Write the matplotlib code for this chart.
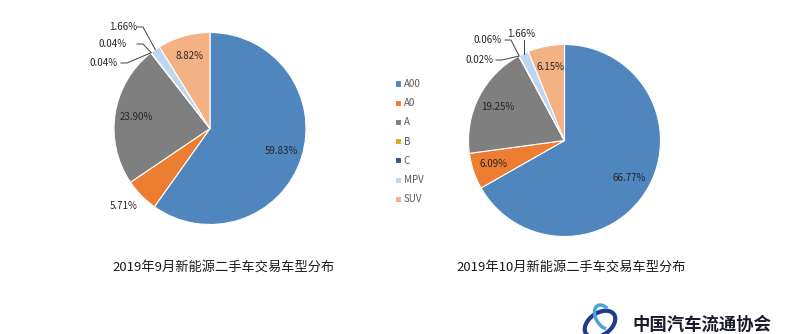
import matplotlib.pyplot as plt
from matplotlib.patches import Ellipse, Arc
import numpy as np

plt.rcParams['font.family'] = ['Noto Sans CJK SC', 'DejaVu Sans']

# datos
categorias = ["A00", "A0", "A", "B", "C", "MPV", "SUV"]
sep_valores = [59.83, 5.71, 23.90, 0.04, 0.04, 1.66, 8.82]
oct_valores = [66.77, 6.09, 19.25, 0.02, 0.06, 1.66, 6.15]
titulos = ["2019年9月新能源二手车交易车型分布", "2019年10月新能源二手车交易车型分布"]
colores = ["#4F86BE", "#ED7D31", "#7F7F7F", "#D4AE1A", "#2F5597", "#BDD7EE", "#F4B183"]

W, H = 800, 334
fig = plt.figure(figsize=(8, 3.34), dpi=100)
ax = fig.add_axes([0, 0, 1, 1])
ax.set_xlim(0, W)
ax.set_ylim(0, H)
ax.axis('off')

R = 96
centros = [(210, H - 128.5), (564.5, H - 140.5)]
col_txt = "#262626"

# etiquetas fuera (posición del texto, codo de la linea)
fuera = [
    {1: ((124, H - 206), None),
     3: ((104, H - 63), (124, H - 63)),
     4: ((113, H - 44), (140, H - 44)),
     5: ((123, H - 27), (140, H - 27))},
    {3: ((479, H - 60), (499, H - 60)),
     4: ((488, H - 40), (508, H - 40)),
     5: ((521, H - 34), None)},
]

wedges_leg = None
for k, valores in enumerate([sep_valores, oct_valores]):
    cx, cy = centros[k]
    wedges, _ = ax.pie(valores, colors=colores, startangle=90, counterclock=False,
                       center=(cx, cy), radius=R, frame=True,
                       wedgeprops=dict(edgecolor='white', linewidth=0.8))
    if wedges_leg is None:
        wedges_leg = wedges
    for i, w in enumerate(wedges):
        ang = np.deg2rad((w.theta1 + w.theta2) / 2)
        etiqueta = f"{valores[i]:.2f}%"
        if i in fuera[k]:
            (tx, ty), codo = fuera[k][i]
            ax.text(tx, ty, etiqueta, ha='center', va='center', fontsize=7, color=col_txt)
            ex, ey = cx + R * np.cos(ang), cy + R * np.sin(ang)
            if codo is not None:
                ax.plot([codo[0] - 3, codo[0] + 3, ex], [codo[1], codo[1], ey],
                        color='#404040', lw=0.7)
            elif k == 1:
                ax.plot([ex, ex], [ty - 6, ey], color='#404040', lw=0.7)
        else:
            d = 0.78 * R
            ax.text(cx + d * np.cos(ang), cy + d * np.sin(ang), etiqueta,
                    ha='center', va='center', fontsize=7, color=col_txt)
    ax.text(cx + (14 if k == 0 else 7), H - 267, titulos[k], ha='center', va='center',
            fontsize=9.5, color='#1a1a1a')

ax.set_xlim(0, W)
ax.set_ylim(0, H)
ax.set_aspect('equal')
ax.axis('off')

leg = ax.legend(wedges_leg, categorias, loc='upper left', bbox_to_anchor=(390 / W, (H - 74) / H),
                frameon=False, fontsize=7, handlelength=0.6, handleheight=0.6,
                handletextpad=0.3, labelspacing=0.95, borderpad=0)
for t in leg.get_texts():
    t.set_color('#595959')

# logo
ax.add_patch(Ellipse((600, H - 324), 34, 22, angle=35, fill=False, edgecolor='#1F3C8C', lw=3))
ax.add_patch(Arc((604, H - 317), 16, 26, angle=30, theta1=40, theta2=250, edgecolor='#4AA3DF', lw=2.5))
ax.text(632, H - 325, "中国汽车流通协会", ha='left', va='center', fontsize=12.5,
        fontweight='bold', color='#1a1a2e')

fig.savefig("out.png", dpi=100)
